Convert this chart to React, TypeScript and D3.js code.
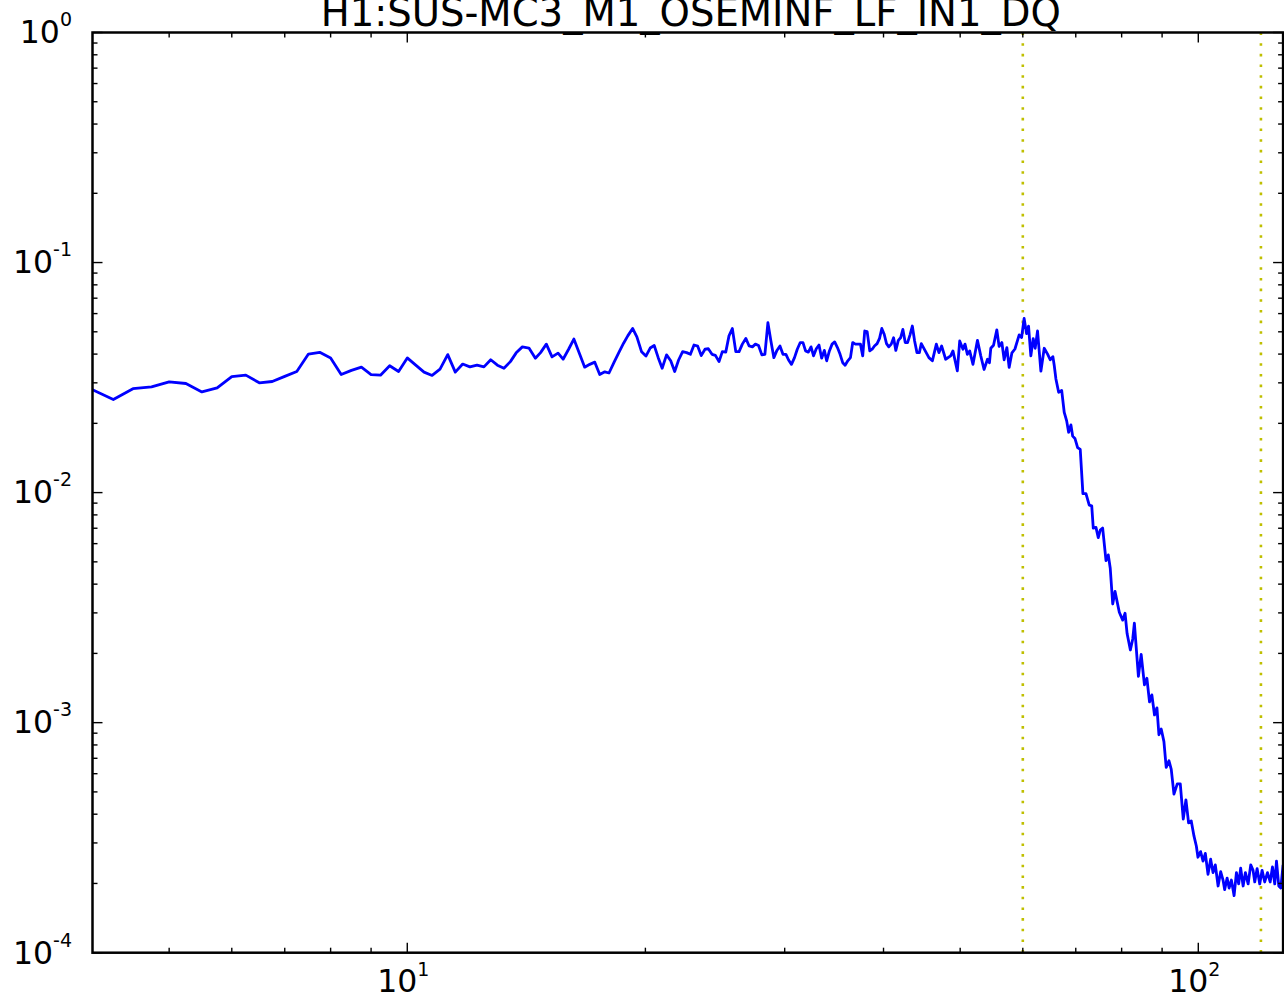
import React from 'react';
import * as d3 from 'd3';

const TITLE = 'H1:SUS-MC3_M1_OSEMINF_LF_IN1_DQ';

const freqs: number[] = [
  4, 4.25, 4.5, 4.75, 5, 5.25, 5.5, 5.75, 6, 6.25,
  6.5, 6.75, 7, 7.25, 7.5, 7.75, 8, 8.25, 8.5, 8.75,
  9, 9.25, 9.5, 9.75, 10, 10.25, 10.5, 10.75, 11, 11.25,
  11.5, 11.75, 12, 12.25, 12.5, 12.75, 13, 13.25, 13.5, 13.73,
  13.98, 14.25, 14.52, 14.74, 14.99, 15.24, 15.51, 15.74, 16.0, 16.24,
  16.52, 16.76, 17.01, 17.26, 17.51, 17.77, 17.99, 18.26, 18.51, 18.77,
  19.0, 19.27, 19.51, 19.78, 20.03, 20.28, 20.52, 20.76, 21.0, 21.27,
  21.53, 21.78, 22.03, 22.29, 22.55, 22.8, 23.04, 23.29, 23.53, 23.79,
  24.02, 24.28, 24.52, 24.78, 25.02, 25.27, 25.51, 25.76, 26.02, 26.27,
  26.52, 26.79, 27.05, 27.31, 27.55, 27.8, 28.07, 28.32, 28.57, 28.82,
  29.07, 29.33, 29.59, 29.85, 30.11, 30.34, 30.6, 30.87, 31.12, 31.39,
  31.64, 31.88, 32.14, 32.39, 32.63, 32.89, 33.15, 33.41, 33.67, 33.9,
  34.17, 34.44, 34.7, 34.98, 35.25, 35.52, 35.77, 36.05, 36.33, 36.57,
  36.86, 37.11, 37.4, 37.65, 37.87, 38.14, 38.43, 38.7, 38.96, 39.26,
  39.54, 39.8, 40.08, 40.35, 40.62, 40.91, 41.19, 41.46, 41.76, 42.04,
  42.32, 42.61, 42.9, 43.2, 43.5, 43.79, 44.09, 44.4, 44.65, 45.65,
  46.11, 46.65, 47.0, 47.37, 47.93, 48.63, 48.96, 49.59, 49.93, 50.41,
  50.71, 51.06, 51.4, 51.9, 52.58, 53.09, 53.6, 54.14, 54.45, 54.66,
  55.1, 55.63, 56.0, 56.45, 56.83, 57.28, 57.66, 58.13, 58.64, 59.37,
  59.79, 60.23, 60.66, 61.01, 61.42, 61.84, 62.2, 62.63, 63.24, 63.86,
  64.49, 64.98, 65.49, 65.75, 66.07, 66.6, 67.19, 67.69, 68.17, 68.56,
  69.02, 69.37, 69.83, 70.38, 70.92, 71.47, 72.11, 72.8, 73.33, 73.66,
  74.24, 74.74, 75.18, 75.7, 76.44, 76.95, 77.39, 77.95, 78.47, 79.46,
  80.25, 80.8, 81.28, 82.06, 82.63, 83.02, 84.0, 84.68, 85.49, 86.1,
  86.76, 87.36, 88.03, 88.66, 89.17, 89.77, 90.48, 91.08, 91.82, 92.43,
  93.16, 94.06, 94.89, 95.72, 96.47, 97.21, 97.97, 98.76, 99.43, 99.9,
  100.67, 101.39, 102.07, 102.87, 103.66, 104.38, 105.08, 105.93, 106.73, 107.47,
  107.97, 108.75, 109.38, 110.11, 110.98, 111.74, 112.48, 113.13, 113.94, 114.7,
  115.61, 116.49, 117.29, 117.86, 118.68, 119.58, 120.41, 121.33, 122.31, 123.27,
  124.1, 124.93, 125.56, 126.4, 127.14, 128.0,
];

const asd: number[] = [
  0.0280, 0.0254, 0.0283, 0.0288, 0.0303, 0.0298, 0.0274, 0.0285, 0.0319, 0.0324,
  0.0300, 0.0304, 0.0320, 0.0336, 0.0400, 0.0407, 0.0385, 0.0326, 0.0340, 0.0351,
  0.0326, 0.0324, 0.0356, 0.0336, 0.0385, 0.0358, 0.0334, 0.0323, 0.0344, 0.0398,
  0.0334, 0.0362, 0.0352, 0.0358, 0.0352, 0.0378, 0.0358, 0.0347, 0.0371, 0.0405,
  0.0430, 0.0425, 0.0384, 0.0406, 0.0442, 0.0389, 0.0404, 0.0380, 0.0421, 0.0465,
  0.0399, 0.0351, 0.0361, 0.0369, 0.0326, 0.0335, 0.0331, 0.0369, 0.0406, 0.0446,
  0.0480, 0.0517, 0.0475, 0.0409, 0.0392, 0.0425, 0.0436, 0.0386, 0.0347, 0.0397,
  0.0374, 0.0336, 0.0377, 0.0410, 0.0406, 0.0399, 0.0438, 0.0433, 0.0394, 0.0420,
  0.0422, 0.0399, 0.0395, 0.0371, 0.0410, 0.0408, 0.0480, 0.0517, 0.0410, 0.0410,
  0.0442, 0.0468, 0.0434, 0.0430, 0.0442, 0.0436, 0.0397, 0.0399, 0.0548, 0.0456,
  0.0386, 0.0415, 0.0434, 0.0399, 0.0399, 0.0377, 0.0361, 0.0386, 0.0420, 0.0449,
  0.0449, 0.0413, 0.0408, 0.0430, 0.0393, 0.0422, 0.0438, 0.0384, 0.0415, 0.0374,
  0.0413, 0.0442, 0.0452, 0.0427, 0.0399, 0.0367, 0.0358, 0.0374, 0.0386, 0.0449,
  0.0442, 0.0442, 0.0442, 0.0393, 0.0504, 0.0501, 0.0413, 0.0420, 0.0434, 0.0444,
  0.0468, 0.0517, 0.0488, 0.0444, 0.0430, 0.0442, 0.0471, 0.0415, 0.0459, 0.0471,
  0.0512, 0.0449, 0.0449, 0.0484, 0.0530, 0.0456, 0.0406, 0.0406, 0.0444, 0.0386,
  0.0374, 0.0442, 0.0406, 0.0434, 0.0380, 0.0393, 0.0413, 0.0338, 0.0456, 0.0420,
  0.0442, 0.0399, 0.0413, 0.0361, 0.0459, 0.0393, 0.0343, 0.0380, 0.0367, 0.0424,
  0.0437, 0.0510, 0.0432, 0.0449, 0.0378, 0.0427, 0.0350, 0.0405, 0.0421, 0.0485,
  0.0472, 0.0572, 0.0491, 0.0529, 0.0393, 0.0467, 0.0424, 0.0504, 0.0337, 0.0424,
  0.0400, 0.0378, 0.0390, 0.0357, 0.0312, 0.0273, 0.0278, 0.0223, 0.0205, 0.0183,
  0.0197, 0.0176, 0.0172, 0.0157, 0.0154, 0.00989, 0.00989, 0.00882, 0.00876, 0.00701,
  0.00706, 0.00637, 0.00687, 0.00701, 0.00506, 0.00536, 0.00469, 0.00328, 0.00372, 0.00302,
  0.00279, 0.00299, 0.00244, 0.00207, 0.00231, 0.00271, 0.00159, 0.00198, 0.00146, 0.00156,
  0.00123, 0.00132, 0.00108, 0.00116, 0.000886, 0.000938, 0.000827, 0.000639, 0.000683, 0.000627,
  0.000489, 0.000542, 0.000542, 0.000381, 0.000462, 0.000367, 0.000374, 0.000321, 0.000291, 0.000260,
  0.000275, 0.000250, 0.000270, 0.000219, 0.000255, 0.000223, 0.000241, 0.000195, 0.000225, 0.000207,
  0.000188, 0.000211, 0.000191, 0.000207, 0.000177, 0.000223, 0.000199, 0.000233, 0.000195, 0.000223,
  0.000199, 0.000241, 0.000228, 0.000203, 0.000232, 0.000199, 0.000228, 0.000203, 0.000223, 0.000203,
  0.000236, 0.000199, 0.000250, 0.000195, 0.000191, 0.000241,
];

const markerFreqs: number[] = [60, 120];
const xDomain: [number, number] = [4, 128];
const yDomain: [number, number] = [1e-4, 1];

const W = 1284;
const H = 1001;
const PLOT = { left: 92.5, right: 1283.1, top: 32.5, bottom: 952.7 };
const FONT = 'DejaVu Sans, sans-serif';

const isDecade = (v: number) => Math.abs(Math.log10(v) - Math.round(Math.log10(v))) < 1e-9;

export default function App() {
  const x = d3.scaleLog().domain(xDomain).range([PLOT.left, PLOT.right]);
  const y = d3.scaleLog().domain(yDomain).range([PLOT.bottom, PLOT.top]);

  const n = Math.min(freqs.length, asd.length);
  const pts: [number, number][] = [];
  for (let i = 0; i < n; i++) pts.push([freqs[i], asd[i]]);
  const line = d3.line<[number, number]>().x((d) => x(d[0])).y((d) => y(d[1]));

  const xTicks = x.ticks().filter((t) => t > xDomain[0] && t < xDomain[1]);
  const yTicks = y.ticks();

  const MAJ = 10;
  const MIN = 5;

  return (
    <svg
      width={W}
      height={H}
      style={{ position: 'absolute', left: 0, top: 0, background: '#fff' }}
      fontFamily={FONT}
    >
      <rect x={0} y={0} width={W} height={H} fill="#fff" />
      <defs>
        <clipPath id="plotclip">
          <rect x={PLOT.left} y={PLOT.top} width={PLOT.right - PLOT.left} height={PLOT.bottom - PLOT.top} />
        </clipPath>
      </defs>

      <text x={(PLOT.left + PLOT.right) / 2 + 3} y={26} fontSize={38.6} textAnchor="middle" fill="#000">
        {TITLE}
      </text>

      <g clipPath="url(#plotclip)">
        {markerFreqs.map((f) => (
          <line
            key={f}
            x1={x(f)}
            x2={x(f)}
            y1={PLOT.bottom}
            y2={PLOT.top}
            stroke="#bfbf00"
            strokeWidth={2.6}
            strokeDasharray="2.6 8.07"
          />
        ))}
        <path d={line(pts) || ''} fill="none" stroke="#0000ff" strokeWidth={2.8} strokeLinejoin="round" />
      </g>

      <g stroke="#000" strokeWidth={1.4}>
        {xTicks.map((t) => {
          const len = isDecade(t) ? MAJ : MIN;
          const px = x(t);
          return (
            <g key={'x' + t}>
              <line x1={px} x2={px} y1={PLOT.bottom} y2={PLOT.bottom - len} />
              <line x1={px} x2={px} y1={PLOT.top} y2={PLOT.top + len} />
            </g>
          );
        })}
        {yTicks.map((t) => {
          const len = isDecade(t) ? MAJ : MIN;
          const py = y(t);
          return (
            <g key={'y' + t}>
              <line x1={PLOT.left} x2={PLOT.left + len} y1={py} y2={py} />
              <line x1={PLOT.right} x2={PLOT.right - len} y1={py} y2={py} />
            </g>
          );
        })}
      </g>

      <rect
        x={PLOT.left}
        y={PLOT.top}
        width={PLOT.right - PLOT.left}
        height={PLOT.bottom - PLOT.top}
        fill="none"
        stroke="#000"
        strokeWidth={2.5}
      />

      {xTicks.filter(isDecade).map((t) => (
        <text key={'xl' + t} x={x(t) - 4} y={991.5} fontSize={31.5} textAnchor="middle" fill="#000">
          10
          <tspan fontSize={19} dy={-16}>
            {String(Math.round(Math.log10(t)))}
          </tspan>
        </text>
      ))}

      {yTicks.filter(isDecade).map((t) => (
        <text key={'yl' + t} x={72} y={y(t) + 10.8} fontSize={31.5} textAnchor="end" fill="#000">
          10
          <tspan fontSize={19} dy={-17}>
            {String(Math.round(Math.log10(t)))}
          </tspan>
        </text>
      ))}
    </svg>
  );
}
